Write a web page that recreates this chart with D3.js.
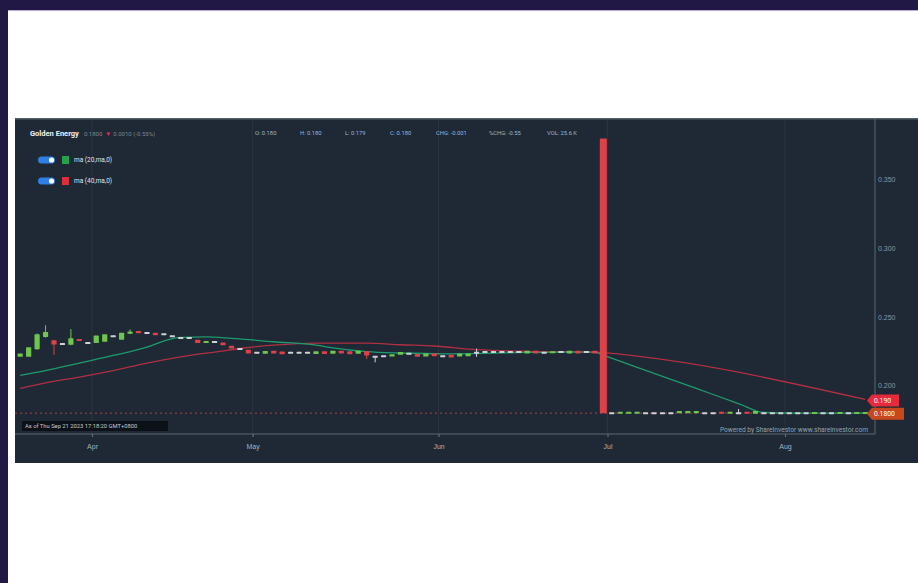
<!DOCTYPE html>
<html>
<head>
<meta charset="utf-8">
<script src="https://cdn.jsdelivr.net/npm/d3@7"></script>
<style>
  html, body { margin: 0; padding: 0; background: #ffffff; }
  svg { display: block; font-family: Roboto, "Open Sans", sans-serif; }
</style>
</head>
<body>
<svg id="chart" width="918" height="583"></svg>
<script>
// ---------- DATA ----------
const title = "Golden Energy";
const lastPrice = "0.1800";
const changeText = "0.0010 (-0.55%)";
const statLabels = ["O: 0.180", "H: 0.180", "L: 0.179", "C: 0.180", "CHG: -0.001", "%CHG: -0.55", "VOL: 25.6 K"];
const legendLabels = ["ma (20,ma,0)", "ma (40,ma,0)"];
const asOfText = "As of Thu Sep 21 2023 17:18:20 GMT+0800";
const poweredText = "Powered by ShareInvestor www.shareinvestor.com";

// trading-day index of each month boundary and its label
const monthTickIdx = [8.5, 27.5, 49.5, 69.5, 90.5];
const monthLabels = ["Apr", "May", "Jun", "Jul", "Aug"];
const priceTicks = [0.200, 0.250, 0.300, 0.350];

// daily candles (index 0 = Mar 21 2023 ... 100 = Aug 14 2023)
const opens = [
  0.2210,0.2210,0.2265,0.2355,0.2330,0.2303,0.2298,0.2340,0.2310,0.2310,
  0.2320,0.2360,0.2335,0.2378,0.2398,0.2383,0.2385,0.2375,0.2360,0.2347,
  0.2347,0.2335,0.2310,0.2318,0.2315,0.2290,0.2267,0.2262,0.2240,0.2232,
  0.2255,0.2248,0.2240,0.2240,0.2240,0.2230,0.2250,0.2232,0.2255,0.2250,
  0.2232,0.2250,0.2210,0.2215,0.2212,0.2225,0.2232,0.2230,0.2212,0.2235,
  0.2215,0.2225,0.2212,0.2215,0.2240,0.2245,0.2245,0.2245,0.2245,0.2245,
  0.2235,0.2255,0.2240,0.2238,0.2245,0.2235,0.2255,0.2245,0.2255,0.3800,
  0.1800,0.1795,0.1795,0.1795,0.1800,0.1800,0.1800,0.1800,0.1800,0.1800,
  0.1800,0.1800,0.1800,0.1810,0.1795,0.1800,0.1810,0.1795,0.1800,0.1800,
  0.1800,0.1800,0.1800,0.1800,0.1795,0.1800,0.1800,0.1795,0.1800,0.1795,
  0.1795
];
const closes = [
  0.2235,0.2280,0.2375,0.2390,0.2300,0.2303,0.2345,0.2325,0.2310,0.2365,
  0.2375,0.2360,0.2385,0.2395,0.2382,0.2383,0.2368,0.2375,0.2360,0.2347,
  0.2347,0.2310,0.2325,0.2318,0.2295,0.2270,0.2267,0.2235,0.2240,0.2252,
  0.2235,0.2228,0.2240,0.2240,0.2240,0.2250,0.2230,0.2255,0.2235,0.2228,
  0.2255,0.2220,0.2210,0.2215,0.2228,0.2245,0.2232,0.2210,0.2235,0.2215,
  0.2215,0.2205,0.2235,0.2235,0.2240,0.2245,0.2245,0.2245,0.2245,0.2245,
  0.2255,0.2235,0.2240,0.2250,0.2245,0.2255,0.2235,0.2245,0.2235,0.1800,
  0.1800,0.1810,0.1810,0.1810,0.1800,0.1800,0.1800,0.1800,0.1815,0.1815,
  0.1815,0.1800,0.1800,0.1795,0.1810,0.1800,0.1795,0.1815,0.1800,0.1800,
  0.1800,0.1800,0.1800,0.1800,0.1808,0.1800,0.1800,0.1808,0.1800,0.1808,
  0.1808
];
// candles with visible wicks: [index, high, low]
const wicks = [
  [2, 0.2380, 0.2262], [3, 0.2440, 0.2350], [4, 0.2332, 0.2225], [6, 0.2412, 0.2295],
  [13, 0.2410, 0.2376], [41, 0.2252, 0.2195], [42, 0.2215, 0.2170], [54, 0.2270, 0.2210],
  [85, 0.1830, 0.1800]
];

// moving averages (index, value)
const ma20Idx = [0,3,7,11,15,17,19,22,25,30,35,37,41,45,50,55,60,65,68,69,75,80,85,88,92,100];
const ma20Val = [0.2075,0.2110,0.2165,0.2220,0.2280,0.2325,0.2352,0.2355,0.2345,0.2320,0.2295,0.2275,0.2248,0.2238,0.2232,0.2235,0.2242,0.2245,0.2245,0.2222,0.2090,0.1980,0.1870,0.1805,0.1800,0.1800];
const ma40Idx = [0,3,7,11,15,19,23,27,30,35,41,45,49,54,60,68,69,100];
const ma40Val = [0.1980,0.2020,0.2063,0.2110,0.2165,0.2210,0.2245,0.2278,0.2295,0.2310,0.2310,0.2298,0.2289,0.2262,0.2250,0.2245,0.2240,0.1900];

const tagValues = [0.190, 0.180];
const tagLabels = ["0.190", "0.1800"];
const currentPrice = 0.180;

// ---------- DRAW ----------
const svg = d3.select("#chart");
const C = { left: 15, top: 118, right: 918, bottom: 463, plotRight: 875, plotBottom: 434 };

// frame
svg.append("rect").attr("x", 0).attr("y", 0).attr("width", 918).attr("height", 10).attr("fill", "#221846");
svg.append("rect").attr("x", 0).attr("y", 10).attr("width", 918).attr("height", 1).attr("fill", "#b9acd6");
svg.append("rect").attr("x", 0).attr("y", 0).attr("width", 8).attr("height", 583).attr("fill", "#221846");

// chart background
svg.append("rect").attr("x", C.left).attr("y", C.top).attr("width", C.right - C.left).attr("height", C.bottom - C.top).attr("fill", "#1e2935");
svg.append("rect").attr("x", C.left).attr("y", C.top).attr("width", C.right - C.left).attr("height", 1.5).attr("fill", "#56606b");

const x = d3.scaleLinear().domain([0, 100]).range([20.2, 865.3]);
const y = d3.scaleLinear().domain([0.2, 0.35]).range([385.7, 179.6]);

// vertical grid at month boundaries
svg.append("g").selectAll("line").data(monthTickIdx).join("line")
  .attr("x1", d => x(d)).attr("x2", d => x(d))
  .attr("y1", C.top + 2).attr("y2", C.plotBottom)
  .attr("stroke", "#ffffff").attr("stroke-opacity", 0.05);

// plot border (right + bottom)
svg.append("line").attr("x1", C.plotRight).attr("x2", C.plotRight).attr("y1", C.top).attr("y2", C.plotBottom).attr("stroke", "#5d6873").attr("stroke-width", 1);
svg.append("line").attr("x1", C.left).attr("x2", C.plotRight).attr("y1", C.plotBottom).attr("y2", C.plotBottom).attr("stroke", "#5d6873").attr("stroke-width", 1);

// y axis
const yAxis = d3.axisRight(y).tickValues(priceTicks).tickSize(0).tickPadding(3).tickFormat(d3.format(".3f"));
const gy = svg.append("g").attr("transform", `translate(${C.plotRight},0)`).call(yAxis);
gy.select(".domain").remove();
gy.selectAll("text").attr("fill", "#8d97a1").attr("font-size", 7);

// x axis
const xAxis = d3.axisBottom(x).tickValues(monthTickIdx).tickSize(3).tickPadding(7).tickFormat((d, i) => monthLabels[i]);
const gx = svg.append("g").attr("transform", `translate(0,${C.plotBottom})`).call(xAxis);
gx.select(".domain").remove();
gx.selectAll("line").attr("stroke", "#6b7680");
gx.selectAll("text").attr("fill", "#aab2ba").attr("font-size", 7);

// current price dotted line
svg.append("line").attr("x1", C.left).attr("x2", C.plotRight - 2)
  .attr("y1", y(currentPrice)).attr("y2", y(currentPrice))
  .attr("stroke", "#a8414c").attr("stroke-width", 1).attr("stroke-dasharray", "2,3");

// moving averages
const line = d3.line().x(d => x(d[0])).y(d => y(d[1])).curve(d3.curveMonotoneX);
svg.append("path").datum(ma40Idx.map((d, i) => [d, ma40Val[i]]))
  .attr("d", line).attr("fill", "none").attr("stroke", "#b02f42").attr("stroke-width", 1.3);
svg.append("path").datum(ma20Idx.map((d, i) => [d, ma20Val[i]]))
  .attr("d", line).attr("fill", "none").attr("stroke", "#1f9a6c").attr("stroke-width", 1.3);

// candles
const candles = opens.map((o, i) => ({ i, o, c: closes[i] }));
const colorOf = d => d.c > d.o ? "#6fc64e" : (d.c < d.o ? "#de4149" : "#cdd2d6");
const wickG = svg.append("g");
wickG.selectAll("line").data(wicks).join("line")
  .attr("x1", d => x(d[0])).attr("x2", d => x(d[0]))
  .attr("y1", d => y(d[1])).attr("y2", d => y(d[2]))
  .attr("stroke", d => colorOf(candles[d[0]])).attr("stroke-width", 1);
svg.append("g").selectAll("rect").data(candles).join("rect")
  .attr("x", d => x(d.i) - (d.o - d.c > 0.05 ? 3.5 : 2.6))
  .attr("width", d => (d.o - d.c > 0.05 ? 7 : 5.2))
  .attr("y", d => d.o === d.c ? y(d.o) - 1 : y(Math.max(d.o, d.c)))
  .attr("height", d => d.o === d.c ? 2 : Math.max(2, Math.abs(y(d.o) - y(d.c))))
  .attr("rx", 0.6)
  .attr("fill", colorOf);

// header
const hdr = svg.append("text").attr("x", 30).attr("y", 136).attr("font-size", 7.5);
hdr.append("tspan").attr("fill", "#eef1f4").attr("font-weight", "bold").text(title);
hdr.append("tspan").attr("dx", 5).attr("fill", "#7d8791").attr("font-size", 6).text(lastPrice);
hdr.append("tspan").attr("dx", 3).attr("fill", "#e0334a").attr("font-size", 6).text("▼");
hdr.append("tspan").attr("dx", 2).attr("fill", "#7d8791").attr("font-size", 6).text(changeText);

const statX = [255, 300, 345, 390, 436, 489, 547];
svg.append("g").selectAll("text").data(statLabels).join("text")
  .attr("x", (d, i) => statX[i]).attr("y", 135).attr("font-size", 5.8)
  .attr("fill", "#9cb6d8").text(d => d);

// legend
const legY = [160, 181];
const legColors = ["#27a14e", "#d8303c"];
legendLabels.forEach((lab, i) => {
  const g = svg.append("g").attr("transform", `translate(0,${legY[i]})`);
  g.append("rect").attr("x", 38).attr("y", -3.5).attr("width", 17).attr("height", 7).attr("rx", 3.5).attr("fill", "#2f80e4");
  g.append("circle").attr("cx", 51.5).attr("cy", 0).attr("r", 2.6).attr("fill", "#ffffff");
  g.append("rect").attr("x", 62).attr("y", -4).attr("width", 7).attr("height", 8).attr("fill", legColors[i]);
  g.append("text").attr("x", 74).attr("y", 2.4).attr("font-size", 6.5).attr("fill", "#dfe4ea").text(lab);
});

// as-of box
svg.append("rect").attr("x", 22).attr("y", 421).attr("width", 146).attr("height", 10).attr("fill", "#0c1117");
svg.append("text").attr("x", 25).attr("y", 428.3).attr("font-size", 5.8).attr("fill", "#c6cbd0").text(asOfText);

// powered by
svg.append("text").attr("x", 868).attr("y", 432).attr("text-anchor", "end").attr("font-size", 6.6)
  .attr("fill", "#98a2ac").text(poweredText);

// last value tags
const tagColors = ["#e52a3c", "#c9471d"];
const tagW = [32, 37];
tagValues.forEach((v, i) => {
  const yy = y(v) + (i === 0 ? 1 : 0.5);
  const x0 = 867, h = 12, w = tagW[i];
  svg.append("path")
    .attr("d", `M${x0},${yy} L${x0 + 5},${yy - h / 2} L${x0 + w},${yy - h / 2} L${x0 + w},${yy + h / 2} L${x0 + 5},${yy + h / 2} Z`)
    .attr("fill", tagColors[i]);
  svg.append("text").attr("x", x0 + 7).attr("y", yy + 2.4).attr("font-size", 6.8)
    .attr("fill", "#ffffff").text(tagLabels[i]);
});
</script>
</body>
</html>
